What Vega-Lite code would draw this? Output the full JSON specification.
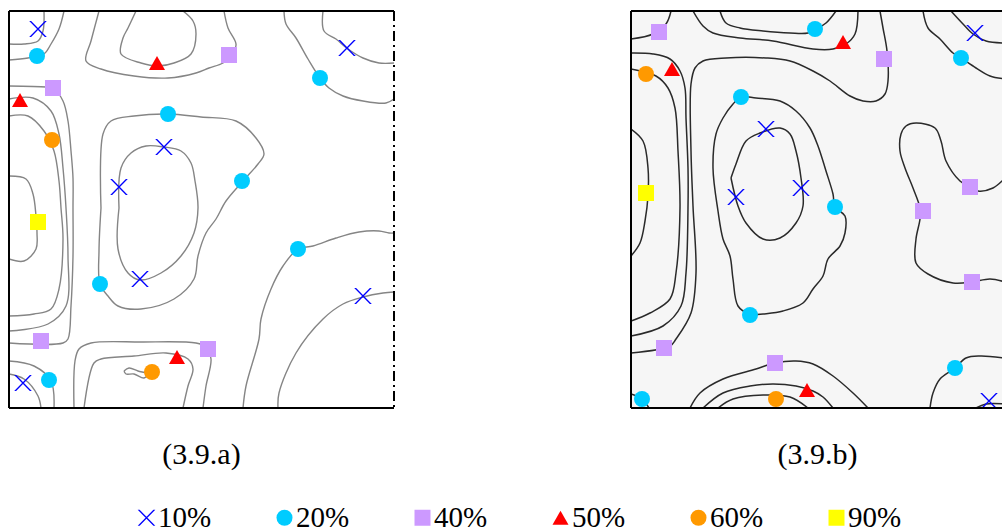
{
"$schema":"https://vega.github.io/schema/vega-lite/v6.json",
"background":"white",
"padding":{"left":8,"top":10,"right":0,"bottom":0},
"config":{"view":{"stroke":null},"axis":{"disable":true},"font":"Liberation Serif"},
"datasets":{
"linesA":[
{"l":1,"i":0,"x":35,"y":0},{"l":1,"i":1,"x":34,"y":20},{"l":1,"i":2,"x":29,"y":30},{"l":1,"i":3,"x":15,"y":33},{"l":1,"i":4,"x":0,"y":33},
{"l":2,"i":0,"x":55,"y":0},{"l":2,"i":1,"x":50,"y":18},{"l":2,"i":2,"x":42,"y":33},{"l":2,"i":3,"x":35,"y":43},{"l":2,"i":4,"x":19,"y":47},{"l":2,"i":5,"x":0,"y":49},
{"l":3,"i":0,"x":0,"y":75},{"l":3,"i":1,"x":37,"y":76},{"l":3,"i":2,"x":44,"y":77},{"l":3,"i":3,"x":54,"y":90},{"l":3,"i":4,"x":59,"y":110},{"l":3,"i":5,"x":62,"y":140},{"l":3,"i":6,"x":64,"y":167},{"l":3,"i":7,"x":64,"y":197},{"l":3,"i":8,"x":64,"y":245},{"l":3,"i":9,"x":62,"y":295},{"l":3,"i":10,"x":59,"y":328},{"l":3,"i":11,"x":54,"y":332},{"l":3,"i":12,"x":0,"y":332},
{"l":4,"i":0,"x":0,"y":88},{"l":4,"i":1,"x":24,"y":87},{"l":4,"i":2,"x":42,"y":100},{"l":4,"i":3,"x":50,"y":123},{"l":4,"i":4,"x":54,"y":157},{"l":4,"i":5,"x":57,"y":197},{"l":4,"i":6,"x":59,"y":245},{"l":4,"i":7,"x":57,"y":295},{"l":4,"i":8,"x":39,"y":313},{"l":4,"i":9,"x":0,"y":320},
{"l":5,"i":0,"x":0,"y":105},{"l":5,"i":1,"x":19,"y":105},{"l":5,"i":2,"x":35,"y":120},{"l":5,"i":3,"x":45,"y":140},{"l":5,"i":4,"x":50,"y":170},{"l":5,"i":5,"x":52,"y":197},{"l":5,"i":6,"x":54,"y":228},{"l":5,"i":7,"x":50,"y":278},{"l":5,"i":8,"x":42,"y":298},{"l":5,"i":9,"x":25,"y":303},{"l":5,"i":10,"x":0,"y":305},
{"l":6,"i":0,"x":0,"y":165},{"l":6,"i":1,"x":17,"y":168},{"l":6,"i":2,"x":24,"y":183},{"l":6,"i":3,"x":27,"y":205},{"l":6,"i":4,"x":28,"y":222},{"l":6,"i":5,"x":27,"y":238},{"l":6,"i":6,"x":15,"y":250},{"l":6,"i":7,"x":0,"y":248},
{"l":7,"i":0,"x":0,"y":350},{"l":7,"i":1,"x":25,"y":355},{"l":7,"i":2,"x":42,"y":370},{"l":7,"i":3,"x":45,"y":397},
{"l":8,"i":0,"x":0,"y":363},{"l":8,"i":1,"x":15,"y":368},{"l":8,"i":2,"x":29,"y":385},{"l":8,"i":3,"x":32,"y":397},
{"l":9,"i":0,"x":65,"y":397},{"l":9,"i":1,"x":66,"y":350},{"l":9,"i":2,"x":70,"y":338},{"l":9,"i":3,"x":82,"y":332},{"l":9,"i":4,"x":132,"y":331},{"l":9,"i":5,"x":187,"y":332},{"l":9,"i":6,"x":197,"y":336},{"l":9,"i":7,"x":202,"y":348},{"l":9,"i":8,"x":197,"y":375},{"l":9,"i":9,"x":194,"y":397},
{"l":10,"i":0,"x":75,"y":397},{"l":10,"i":1,"x":85,"y":352},{"l":10,"i":2,"x":92,"y":348},{"l":10,"i":3,"x":125,"y":345},{"l":10,"i":4,"x":157,"y":342},{"l":10,"i":5,"x":179,"y":348},{"l":10,"i":6,"x":184,"y":358},{"l":10,"i":7,"x":179,"y":375},{"l":10,"i":8,"x":174,"y":397},
{"l":11,"i":0,"x":115,"y":360},{"l":11,"i":1,"x":120,"y":357},{"l":11,"i":2,"x":129,"y":360},{"l":11,"i":3,"x":139,"y":363},{"l":11,"i":4,"x":135,"y":367},{"l":11,"i":5,"x":125,"y":363},{"l":11,"i":6,"x":117,"y":363},{"l":11,"i":7,"x":115,"y":360},
{"l":12,"i":0,"x":92,"y":197},{"l":12,"i":1,"x":94,"y":123},{"l":12,"i":2,"x":102,"y":110},{"l":12,"i":3,"x":125,"y":105},{"l":12,"i":4,"x":159,"y":103},{"l":12,"i":5,"x":192,"y":106},{"l":12,"i":6,"x":227,"y":110},{"l":12,"i":7,"x":247,"y":127},{"l":12,"i":8,"x":255,"y":143},{"l":12,"i":9,"x":249,"y":153},{"l":12,"i":10,"x":234,"y":170},{"l":12,"i":11,"x":217,"y":190},{"l":12,"i":12,"x":207,"y":208},{"l":12,"i":13,"x":197,"y":222},{"l":12,"i":14,"x":189,"y":245},{"l":12,"i":15,"x":185,"y":268},{"l":12,"i":16,"x":165,"y":288},{"l":12,"i":17,"x":132,"y":298},{"l":12,"i":18,"x":109,"y":295},{"l":12,"i":19,"x":99,"y":285},{"l":12,"i":20,"x":91,"y":273},{"l":12,"i":21,"x":90,"y":240},{"l":12,"i":22,"x":92,"y":197},
{"l":13,"i":0,"x":110,"y":197},{"l":13,"i":1,"x":112,"y":157},{"l":13,"i":2,"x":122,"y":142},{"l":13,"i":3,"x":137,"y":135},{"l":13,"i":4,"x":155,"y":136},{"l":13,"i":5,"x":172,"y":140},{"l":13,"i":6,"x":182,"y":152},{"l":13,"i":7,"x":186,"y":170},{"l":13,"i":8,"x":189,"y":197},{"l":13,"i":9,"x":185,"y":222},{"l":13,"i":10,"x":172,"y":245},{"l":13,"i":11,"x":152,"y":262},{"l":13,"i":12,"x":131,"y":269},{"l":13,"i":13,"x":119,"y":262},{"l":13,"i":14,"x":109,"y":238},{"l":13,"i":15,"x":110,"y":197},
{"l":14,"i":0,"x":90,"y":0},{"l":14,"i":1,"x":82,"y":30},{"l":14,"i":2,"x":77,"y":50},{"l":14,"i":3,"x":92,"y":58},{"l":14,"i":4,"x":125,"y":65},{"l":14,"i":5,"x":159,"y":67},{"l":14,"i":6,"x":187,"y":62},{"l":14,"i":7,"x":200,"y":57},{"l":14,"i":8,"x":214,"y":52},{"l":14,"i":9,"x":224,"y":43},{"l":14,"i":10,"x":227,"y":33},{"l":14,"i":11,"x":219,"y":17},{"l":14,"i":12,"x":215,"y":0},
{"l":15,"i":0,"x":127,"y":0},{"l":15,"i":1,"x":119,"y":17},{"l":15,"i":2,"x":114,"y":27},{"l":15,"i":3,"x":112,"y":43},{"l":15,"i":4,"x":132,"y":52},{"l":15,"i":5,"x":149,"y":55},{"l":15,"i":6,"x":165,"y":52},{"l":15,"i":7,"x":182,"y":43},{"l":15,"i":8,"x":187,"y":23},{"l":15,"i":9,"x":184,"y":10},{"l":15,"i":10,"x":174,"y":0},
{"l":16,"i":0,"x":275,"y":0},{"l":16,"i":1,"x":277,"y":13},{"l":16,"i":2,"x":287,"y":27},{"l":16,"i":3,"x":299,"y":48},{"l":16,"i":4,"x":311,"y":67},{"l":16,"i":5,"x":320,"y":77},{"l":16,"i":6,"x":334,"y":85},{"l":16,"i":7,"x":354,"y":90},{"l":16,"i":8,"x":377,"y":92},{"l":16,"i":9,"x":385,"y":88},
{"l":17,"i":0,"x":314,"y":0},{"l":17,"i":1,"x":315,"y":20},{"l":17,"i":2,"x":327,"y":28},{"l":17,"i":3,"x":339,"y":38},{"l":17,"i":4,"x":354,"y":47},{"l":17,"i":5,"x":370,"y":52},{"l":17,"i":6,"x":385,"y":52},
{"l":18,"i":0,"x":234,"y":397},{"l":18,"i":1,"x":237,"y":375},{"l":18,"i":2,"x":250,"y":328},{"l":18,"i":3,"x":252,"y":308},{"l":18,"i":4,"x":262,"y":278},{"l":18,"i":5,"x":274,"y":255},{"l":18,"i":6,"x":289,"y":238},{"l":18,"i":7,"x":304,"y":235},{"l":18,"i":8,"x":327,"y":227},{"l":18,"i":9,"x":350,"y":221},{"l":18,"i":10,"x":370,"y":220},{"l":18,"i":11,"x":380,"y":222},{"l":18,"i":12,"x":385,"y":222},
{"l":19,"i":0,"x":269,"y":397},{"l":19,"i":1,"x":270,"y":382},{"l":19,"i":2,"x":287,"y":342},{"l":19,"i":3,"x":314,"y":308},{"l":19,"i":4,"x":334,"y":293},{"l":19,"i":5,"x":354,"y":286},{"l":19,"i":6,"x":374,"y":282},{"l":19,"i":7,"x":385,"y":281}
],
"linesB":[
{"l":1,"i":0,"x":0,"y":28},{"l":1,"i":1,"x":22,"y":23},{"l":1,"i":2,"x":35,"y":13},{"l":1,"i":3,"x":40,"y":0},
{"l":2,"i":0,"x":89,"y":0},{"l":2,"i":1,"x":95,"y":12},{"l":2,"i":2,"x":109,"y":17},{"l":2,"i":3,"x":132,"y":20},{"l":2,"i":4,"x":159,"y":22},{"l":2,"i":5,"x":177,"y":22},{"l":2,"i":6,"x":185,"y":18},{"l":2,"i":7,"x":195,"y":12},{"l":2,"i":8,"x":205,"y":0},
{"l":3,"i":0,"x":62,"y":0},{"l":3,"i":1,"x":72,"y":15},{"l":3,"i":2,"x":82,"y":22},{"l":3,"i":3,"x":109,"y":27},{"l":3,"i":4,"x":142,"y":30},{"l":3,"i":5,"x":182,"y":38},{"l":3,"i":6,"x":202,"y":38},{"l":3,"i":7,"x":215,"y":33},{"l":3,"i":8,"x":224,"y":23},{"l":3,"i":9,"x":227,"y":0},
{"l":4,"i":0,"x":0,"y":342},{"l":4,"i":1,"x":39,"y":335},{"l":4,"i":2,"x":45,"y":328},{"l":4,"i":3,"x":60,"y":302},{"l":4,"i":4,"x":65,"y":262},{"l":4,"i":5,"x":62,"y":195},{"l":4,"i":6,"x":60,"y":140},{"l":4,"i":7,"x":60,"y":73},{"l":4,"i":8,"x":64,"y":57},{"l":4,"i":9,"x":72,"y":50},{"l":4,"i":10,"x":95,"y":47},{"l":4,"i":11,"x":135,"y":47},{"l":4,"i":12,"x":159,"y":50},{"l":4,"i":13,"x":182,"y":60},{"l":4,"i":14,"x":199,"y":70},{"l":4,"i":15,"x":219,"y":85},{"l":4,"i":16,"x":232,"y":90},{"l":4,"i":17,"x":245,"y":90},{"l":4,"i":18,"x":254,"y":83},{"l":4,"i":19,"x":257,"y":70},{"l":4,"i":20,"x":256,"y":40},{"l":4,"i":21,"x":252,"y":17},{"l":4,"i":22,"x":249,"y":0},
{"l":5,"i":0,"x":0,"y":42},{"l":5,"i":1,"x":22,"y":43},{"l":5,"i":2,"x":39,"y":48},{"l":5,"i":3,"x":49,"y":60},{"l":5,"i":4,"x":54,"y":77},{"l":5,"i":5,"x":55,"y":107},{"l":5,"i":6,"x":57,"y":157},{"l":5,"i":7,"x":57,"y":197},{"l":5,"i":8,"x":55,"y":262},{"l":5,"i":9,"x":50,"y":295},{"l":5,"i":10,"x":32,"y":315},{"l":5,"i":11,"x":0,"y":325},
{"l":6,"i":0,"x":0,"y":58},{"l":6,"i":1,"x":25,"y":65},{"l":6,"i":2,"x":37,"y":77},{"l":6,"i":3,"x":44,"y":97},{"l":6,"i":4,"x":47,"y":140},{"l":6,"i":5,"x":49,"y":197},{"l":6,"i":6,"x":45,"y":262},{"l":6,"i":7,"x":39,"y":288},{"l":6,"i":8,"x":19,"y":302},{"l":6,"i":9,"x":0,"y":310},
{"l":7,"i":0,"x":0,"y":118},{"l":7,"i":1,"x":12,"y":130},{"l":7,"i":2,"x":17,"y":157},{"l":7,"i":3,"x":17,"y":185},{"l":7,"i":4,"x":14,"y":210},{"l":7,"i":5,"x":9,"y":232},{"l":7,"i":6,"x":0,"y":245},
{"l":8,"i":0,"x":119,"y":304},{"l":8,"i":1,"x":107,"y":295},{"l":8,"i":2,"x":102,"y":268},{"l":8,"i":3,"x":99,"y":245},{"l":8,"i":4,"x":92,"y":228},{"l":8,"i":5,"x":87,"y":200},{"l":8,"i":6,"x":82,"y":157},{"l":8,"i":7,"x":85,"y":123},{"l":8,"i":8,"x":92,"y":107},{"l":8,"i":9,"x":102,"y":93},{"l":8,"i":10,"x":110,"y":86},{"l":8,"i":11,"x":125,"y":87},{"l":8,"i":12,"x":149,"y":90},{"l":8,"i":13,"x":165,"y":100},{"l":8,"i":14,"x":179,"y":117},{"l":8,"i":15,"x":187,"y":135},{"l":8,"i":16,"x":195,"y":160},{"l":8,"i":17,"x":202,"y":183},{"l":8,"i":18,"x":204,"y":196},{"l":8,"i":19,"x":214,"y":205},{"l":8,"i":20,"x":214,"y":222},{"l":8,"i":21,"x":209,"y":235},{"l":8,"i":22,"x":197,"y":248},{"l":8,"i":23,"x":192,"y":265},{"l":8,"i":24,"x":182,"y":278},{"l":8,"i":25,"x":172,"y":292},{"l":8,"i":26,"x":152,"y":300},{"l":8,"i":27,"x":132,"y":303},{"l":8,"i":28,"x":119,"y":304},
{"l":9,"i":0,"x":100,"y":167},{"l":9,"i":1,"x":105,"y":153},{"l":9,"i":2,"x":115,"y":130},{"l":9,"i":3,"x":129,"y":122},{"l":9,"i":4,"x":149,"y":117},{"l":9,"i":5,"x":159,"y":123},{"l":9,"i":6,"x":165,"y":140},{"l":9,"i":7,"x":170,"y":167},{"l":9,"i":8,"x":172,"y":195},{"l":9,"i":9,"x":165,"y":212},{"l":9,"i":10,"x":149,"y":227},{"l":9,"i":11,"x":132,"y":228},{"l":9,"i":12,"x":115,"y":212},{"l":9,"i":13,"x":107,"y":195},{"l":9,"i":14,"x":100,"y":167},
{"l":10,"i":0,"x":292,"y":0},{"l":10,"i":1,"x":297,"y":17},{"l":10,"i":2,"x":309,"y":28},{"l":10,"i":3,"x":322,"y":42},{"l":10,"i":4,"x":330,"y":47},{"l":10,"i":5,"x":345,"y":57},{"l":10,"i":6,"x":359,"y":65},{"l":10,"i":7,"x":374,"y":68},
{"l":11,"i":0,"x":320,"y":0},{"l":11,"i":1,"x":332,"y":13},{"l":11,"i":2,"x":342,"y":23},{"l":11,"i":3,"x":355,"y":30},{"l":11,"i":4,"x":374,"y":32},
{"l":12,"i":0,"x":374,"y":167},{"l":12,"i":1,"x":362,"y":177},{"l":12,"i":2,"x":347,"y":180},{"l":12,"i":3,"x":339,"y":176},{"l":12,"i":4,"x":329,"y":170},{"l":12,"i":5,"x":315,"y":150},{"l":12,"i":6,"x":310,"y":130},{"l":12,"i":7,"x":304,"y":117},{"l":12,"i":8,"x":285,"y":112},{"l":12,"i":9,"x":275,"y":115},{"l":12,"i":10,"x":270,"y":123},{"l":12,"i":11,"x":269,"y":140},{"l":12,"i":12,"x":274,"y":157},{"l":12,"i":13,"x":282,"y":177},{"l":12,"i":14,"x":289,"y":197},{"l":12,"i":15,"x":289,"y":208},{"l":12,"i":16,"x":285,"y":228},{"l":12,"i":17,"x":285,"y":252},{"l":12,"i":18,"x":297,"y":263},{"l":12,"i":19,"x":322,"y":272},{"l":12,"i":20,"x":341,"y":271},{"l":12,"i":21,"x":359,"y":268},{"l":12,"i":22,"x":374,"y":271},
{"l":13,"i":0,"x":299,"y":397},{"l":13,"i":1,"x":302,"y":382},{"l":13,"i":2,"x":309,"y":368},{"l":13,"i":3,"x":324,"y":357},{"l":13,"i":4,"x":335,"y":347},{"l":13,"i":5,"x":349,"y":345},{"l":13,"i":6,"x":374,"y":347},
{"l":14,"i":0,"x":345,"y":397},{"l":14,"i":1,"x":355,"y":393},{"l":14,"i":2,"x":374,"y":393},
{"l":15,"i":0,"x":59,"y":397},{"l":15,"i":1,"x":69,"y":382},{"l":15,"i":2,"x":92,"y":368},{"l":15,"i":3,"x":125,"y":358},{"l":15,"i":4,"x":144,"y":352},{"l":15,"i":5,"x":165,"y":350},{"l":15,"i":6,"x":182,"y":353},{"l":15,"i":7,"x":202,"y":365},{"l":15,"i":8,"x":222,"y":382},{"l":15,"i":9,"x":237,"y":397},
{"l":16,"i":0,"x":72,"y":397},{"l":16,"i":1,"x":92,"y":382},{"l":16,"i":2,"x":119,"y":375},{"l":16,"i":3,"x":142,"y":373},{"l":16,"i":4,"x":165,"y":375},{"l":16,"i":5,"x":182,"y":380},{"l":16,"i":6,"x":192,"y":386},{"l":16,"i":7,"x":202,"y":397},
{"l":17,"i":0,"x":87,"y":397},{"l":17,"i":1,"x":102,"y":388},{"l":17,"i":2,"x":132,"y":384},{"l":17,"i":3,"x":159,"y":386},{"l":17,"i":4,"x":177,"y":397},
{"l":18,"i":0,"x":0,"y":383},{"l":18,"i":1,"x":11,"y":388},{"l":18,"i":2,"x":18,"y":397}
],
"ptsA":[
{"level":"10%","x":29,"y":18},{"level":"10%","x":338,"y":37},{"level":"10%","x":155,"y":136},{"level":"10%","x":110,"y":176},{"level":"10%","x":131,"y":268},{"level":"10%","x":354,"y":285},{"level":"10%","x":14,"y":372},
{"level":"20%","x":28,"y":45},{"level":"20%","x":311,"y":67},{"level":"20%","x":159,"y":103},{"level":"20%","x":233,"y":170},{"level":"20%","x":289,"y":238},{"level":"20%","x":91,"y":273},{"level":"20%","x":40,"y":369},
{"level":"40%","x":220,"y":44},{"level":"40%","x":44,"y":77},{"level":"40%","x":32,"y":330},{"level":"40%","x":199,"y":338},
{"level":"50%","x":148,"y":52},{"level":"50%","x":11,"y":89},{"level":"50%","x":168,"y":346},
{"level":"60%","x":43,"y":129},{"level":"60%","x":143,"y":361},
{"level":"90%","x":29,"y":211}
],
"ptsB":[
{"level":"10%","x":344,"y":22},{"level":"10%","x":135,"y":118},{"level":"10%","x":105,"y":186},{"level":"10%","x":170,"y":177},{"level":"10%","x":358,"y":390},
{"level":"20%","x":184,"y":18},{"level":"20%","x":330,"y":47},{"level":"20%","x":110,"y":86},{"level":"20%","x":204,"y":196},{"level":"20%","x":119,"y":304},{"level":"20%","x":324,"y":357},{"level":"20%","x":11,"y":388},
{"level":"40%","x":28,"y":21},{"level":"40%","x":253,"y":48},{"level":"40%","x":339,"y":176},{"level":"40%","x":292,"y":200},{"level":"40%","x":341,"y":271},{"level":"40%","x":33,"y":337},{"level":"40%","x":144,"y":352},
{"level":"50%","x":212,"y":31},{"level":"50%","x":41,"y":58},{"level":"50%","x":176,"y":379},
{"level":"60%","x":15,"y":63},{"level":"60%","x":145,"y":388},
{"level":"90%","x":15,"y":182}
]
},
"spacing":235,
"resolve":{"scale":{"x":"independent","y":"independent","color":"shared","shape":"shared"}},
"hconcat":[
{"width":385,"height":397,
"title":{"text":"(3.9.a)","orient":"bottom","offset":31,"fontSize":30,"font":"Liberation Serif","fontWeight":"normal","color":"black","anchor":"middle","baseline":"top"},
"layer":[
{"data":{"name":"linesA"},"mark":{"type":"line","stroke":"#858585","strokeWidth":1.4,"interpolate":"catmull-rom","clip":true},
"encoding":{"x":{"field":"x","type":"quantitative","scale":{"domain":[0,385],"nice":false,"zero":false},"axis":null},
"y":{"field":"y","type":"quantitative","scale":{"domain":[0,397],"reverse":true,"nice":false,"zero":false},"axis":null},
"detail":{"field":"l","type":"nominal"},"order":{"field":"i","type":"quantitative"}}},
{"data":{"name":"ptsA"},"mark":{"type":"point","filled":true,"size":256,"opacity":1,"strokeWidth":0},
"encoding":{"x":{"field":"x","type":"quantitative","axis":null},"y":{"field":"y","type":"quantitative","axis":null},
"color":{"field":"level","type":"nominal","scale":{"domain":["10%","20%","40%","50%","60%","90%"],"range":["#0000ff","#00ccff","#cc99ff","#ff0000","#ff9900","#ffff00"]},
"legend":{"title":null,"orient":"none","direction":"horizontal","columns":6,"legendX":123,"legendY":492,"labelFont":"Liberation Serif","labelFontSize":29,"labelColor":"black","symbolSize":256,"symbolStrokeWidth":0,"symbolOpacity":1,"labelOffset":-3,"columnPadding":58,"padding":0,"labelLimit":200}},
"shape":{"field":"level","type":"nominal","scale":{"domain":["10%","20%","40%","50%","60%","90%"],"range":["M-1.1,-1L-0.86,-1L1.1,1L0.86,1ZM1.1,-1L-0.86,1L-1.1,1L0.86,-1Z","circle","square","triangle-up","circle","square"]},
"legend":{"title":null,"orient":"none","direction":"horizontal","columns":6,"legendX":123,"legendY":492,"labelFont":"Liberation Serif","labelFontSize":29,"labelColor":"black","symbolSize":256,"symbolStrokeWidth":0,"symbolOpacity":1,"labelOffset":-3,"columnPadding":58,"padding":0,"labelLimit":200}}}},
{"data":{"values":[{}]},"mark":{"type":"rule","stroke":"black","strokeWidth":2},"encoding":{"y":{"datum":0}}},
{"data":{"values":[{}]},"mark":{"type":"rule","stroke":"black","strokeWidth":2},"encoding":{"y":{"datum":397}}},
{"data":{"values":[{}]},"mark":{"type":"rule","stroke":"black","strokeWidth":2},"encoding":{"x":{"datum":0}}},
{"data":{"values":[{}]},"mark":{"type":"rule","stroke":"black","strokeWidth":2,"strokeDash":[10,4,2,4]},"encoding":{"x":{"datum":385}}}
]},
{"width":373,"height":397,
"view":{"fill":"#f6f6f6","stroke":null},
"title":{"text":"(3.9.b)","orient":"bottom","offset":31,"fontSize":30,"font":"Liberation Serif","fontWeight":"normal","color":"black","anchor":"middle","baseline":"top"},
"layer":[
{"data":{"name":"linesB"},"mark":{"type":"line","stroke":"#2a2a2a","strokeWidth":1.5,"interpolate":"catmull-rom","clip":true},
"encoding":{"x":{"field":"x","type":"quantitative","scale":{"domain":[0,373],"nice":false,"zero":false},"axis":null},
"y":{"field":"y","type":"quantitative","scale":{"domain":[0,397],"reverse":true,"nice":false,"zero":false},"axis":null},
"detail":{"field":"l","type":"nominal"},"order":{"field":"i","type":"quantitative"}}},
{"data":{"name":"ptsB"},"mark":{"type":"point","filled":true,"size":256,"opacity":1,"strokeWidth":0},
"encoding":{"x":{"field":"x","type":"quantitative","axis":null},"y":{"field":"y","type":"quantitative","axis":null},
"color":{"field":"level","type":"nominal","scale":{"domain":["10%","20%","40%","50%","60%","90%"],"range":["#0000ff","#00ccff","#cc99ff","#ff0000","#ff9900","#ffff00"]},
"legend":{"title":null,"orient":"none","direction":"horizontal","columns":6,"legendX":123,"legendY":492,"labelFont":"Liberation Serif","labelFontSize":29,"labelColor":"black","symbolSize":256,"symbolStrokeWidth":0,"symbolOpacity":1,"labelOffset":-3,"columnPadding":58,"padding":0,"labelLimit":200}},
"shape":{"field":"level","type":"nominal","scale":{"domain":["10%","20%","40%","50%","60%","90%"],"range":["M-1.1,-1L-0.86,-1L1.1,1L0.86,1ZM1.1,-1L-0.86,1L-1.1,1L0.86,-1Z","circle","square","triangle-up","circle","square"]},
"legend":{"title":null,"orient":"none","direction":"horizontal","columns":6,"legendX":123,"legendY":492,"labelFont":"Liberation Serif","labelFontSize":29,"labelColor":"black","symbolSize":256,"symbolStrokeWidth":0,"symbolOpacity":1,"labelOffset":-3,"columnPadding":58,"padding":0,"labelLimit":200}}}},
{"data":{"values":[{}]},"mark":{"type":"rule","stroke":"black","strokeWidth":2},"encoding":{"y":{"datum":0}}},
{"data":{"values":[{}]},"mark":{"type":"rule","stroke":"black","strokeWidth":2},"encoding":{"y":{"datum":397}}},
{"data":{"values":[{}]},"mark":{"type":"rule","stroke":"black","strokeWidth":2},"encoding":{"x":{"datum":0}}}
]}
]
}
